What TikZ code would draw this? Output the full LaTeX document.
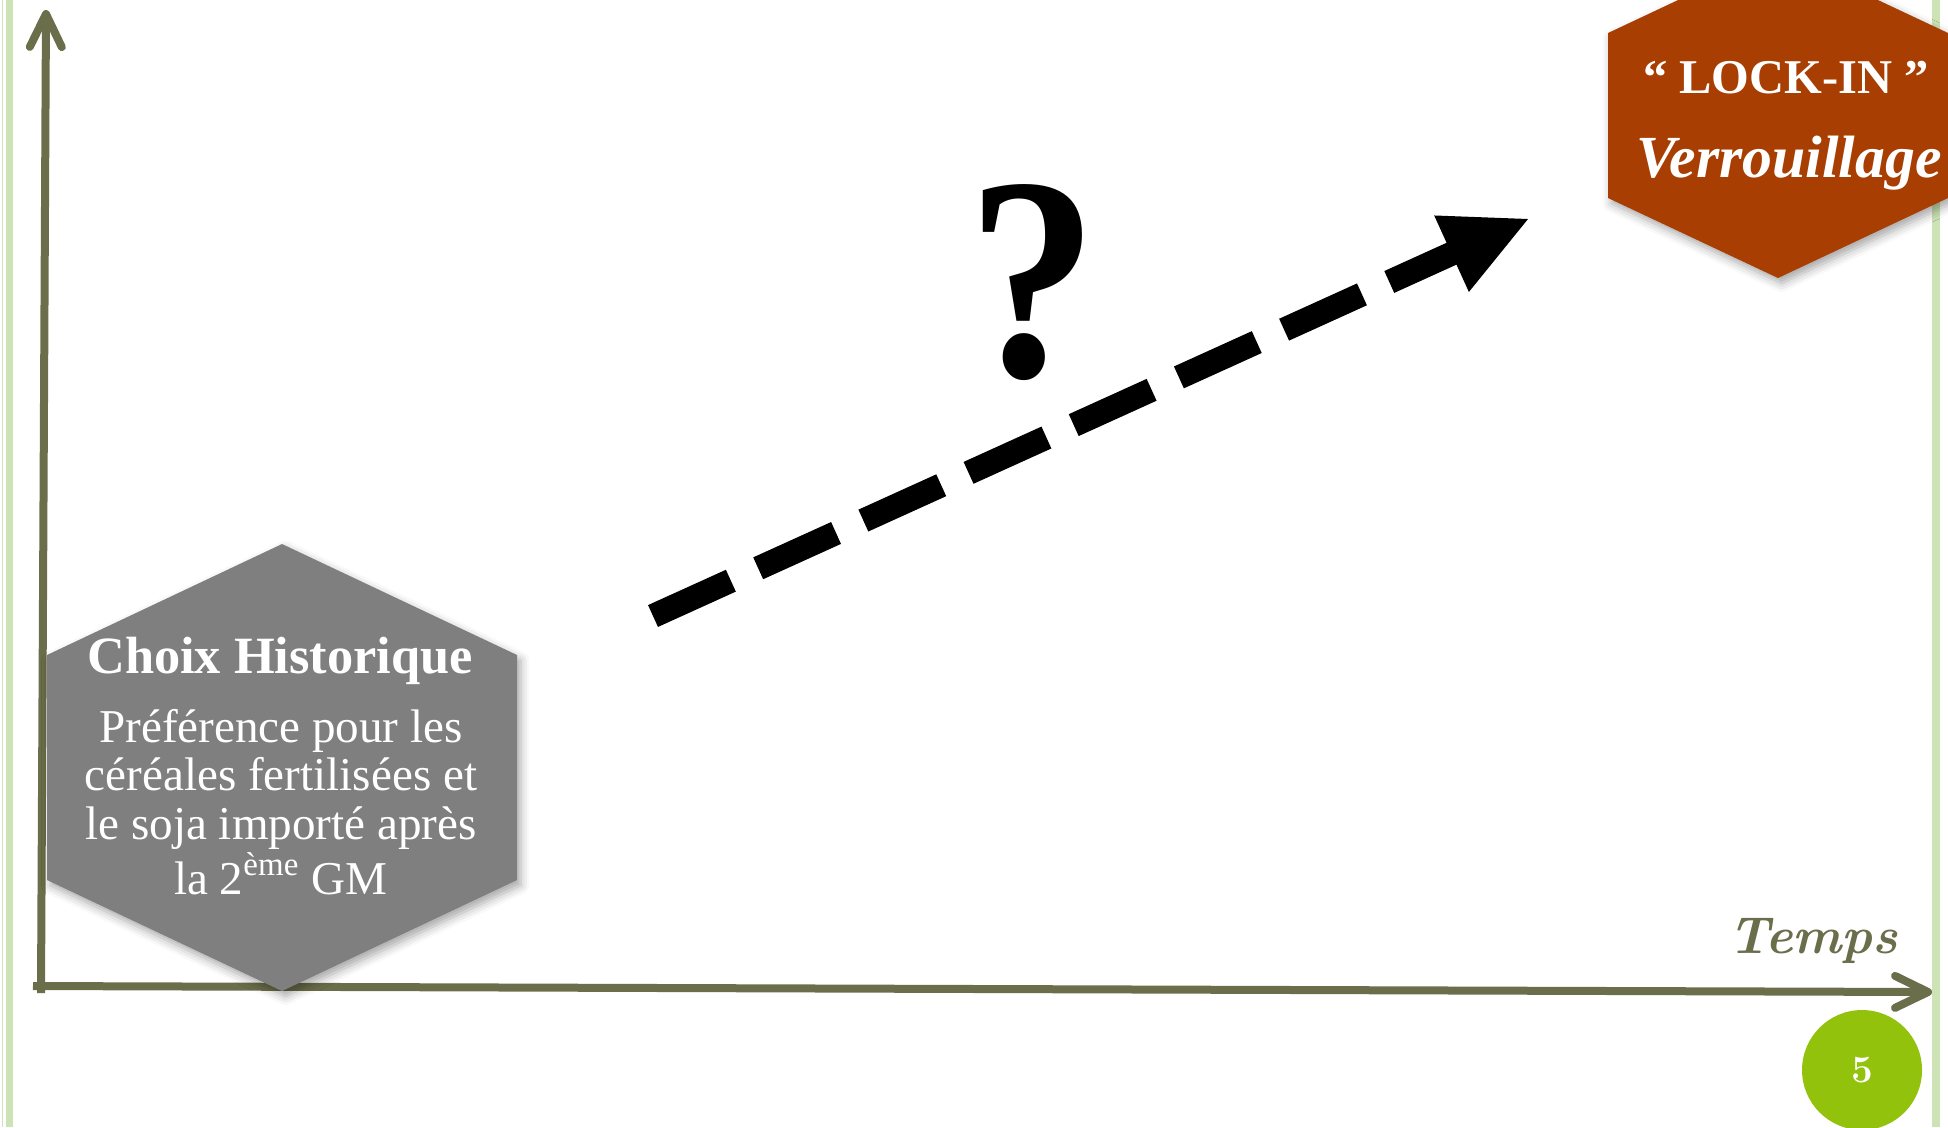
\documentclass[tikz,border=0pt]{standalone}
\usepackage{fontspec}
\usepackage{graphicx}
\usepackage{tikz}
\usetikzlibrary{arrows.meta,calc,positioning,shadows.blur}
\newfontfamily\hexfont{Liberation Serif}
\definecolor{olive}{HTML}{6B6E4A}
\definecolor{gris}{HTML}{7F7F7F}
\definecolor{brun}{HTML}{A83E02}
\definecolor{vertpage}{HTML}{93C20C}
\definecolor{vertcadre}{HTML}{CDE3B5}
\tikzset{
  % cadre et axes
  cadre/.style={draw=vertcadre},
  axe/.style={-{Straight Barb[length=3.3mm,width=3.2mm,round]},line width=0.8mm,draw=olive},
  % hexagones
  hexgris/.style={fill=gris,blur shadow={shadow xshift=1pt,shadow yshift=-1.5pt,shadow blur radius=2.5pt,shadow opacity=35}},
  hexbrun/.style={fill=brun,blur shadow={shadow xshift=1pt,shadow yshift=-1.5pt,shadow blur radius=2.5pt,shadow opacity=35}},
  titre/.style={anchor=base,inner sep=0pt,text=white,font=\hexfont\bfseries\fontsize{14.9}{16}\selectfont},
  corps/.style={inner sep=0pt,text=white,align=center,font=\hexfont\fontsize{13.4}{13.74}\selectfont},
  % fleche
  trait/.style={line width=2.4mm,dash pattern=on 8.55mm off 3mm},
  pointe/.style={fill=black},
  interro/.style={inner sep=0pt,font=\hexfont\bfseries\fontsize{82.5}{90}\selectfont},
  temps/.style={anchor=base,inner sep=0pt,text=olive,font=\bfseries\itshape\fontsize{14.8}{16}\selectfont},
  pastille/.style={circle,fill=vertpage,minimum size=12mm,inner sep=0pt,text=white,font=\bfseries\fontsize{11}{12}\selectfont},
}
\begin{document}
\begin{tikzpicture}[x=0.1mm,y=-0.1mm]
  \useasboundingbox (0,0) rectangle (1948,1127);
  \clip (0,0) rectangle (1948,1127);
  \draw[cadre,line width=0.16mm] (2.5,0) -- (2.5,1127);
  \draw[cadre,line width=0.7mm] (9.5,0) -- (9.5,1127);
  \draw[cadre,line width=0.8mm] (1936,0) -- (1936,1127);

  % axes
  \coordinate (origine) at (41,993);
  \coordinate (haut) at (46,10);
  \coordinate (xdebut) at (33,986);
  \coordinate (xfin) at (1932,992);
  \draw[axe] (origine) -- (haut);
  \draw[axe] (xdebut) -- (xfin);
  \node[temps] (temps) at (1813,953) {Temps};

  % choix historique
  \fill[hexgris] (282,544) -- (517,655) -- (517,880) -- (282,991) -- (47,880) -- (47,655) -- cycle;
  \node[titre] (choix) at (280,673) {Choix Historique};
  \node[corps] (pref) at (281,802) {Préférence pour les\\céréales fertilisées et\\le soja importé après\\la 2\textsuperscript{ème} GM};

  % lock-in
  \fill[hexbrun] (1778,-47) -- (1948,33) -- (1948,198) -- (1778,278) -- (1608,198) -- (1608,33) -- cycle;
  \node[titre,font=\hexfont\bfseries\fontsize{13.8}{16}\selectfont] (lockin) at (1786,93) {“ LOCK-IN ”};
  \node[titre,font=\hexfont\bfseries\itshape\fontsize{17}{18}\selectfont] (verrou) at (1789,177) {Verrouillage};

  % trajectoire
  \coordinate (depart) at (653,616);
  \coordinate (arrivee) at (1528,219);
  \coordinate (base) at ($(arrivee)!8.4mm!(depart)$);
  \draw[trait] (depart) -- ($(arrivee)!8mm!(depart)$);
  \fill[pointe] (arrivee) -- ($(base)!4.2mm!90:(arrivee)$) -- ($(base)!4.2mm!-90:(arrivee)$) -- cycle;
  \node[interro] (question) at (1033,283) {\scalebox{0.9}[1]{?}};

  \node[pastille] (page) at (1862,1070) {5};
\end{tikzpicture}
\end{document}
